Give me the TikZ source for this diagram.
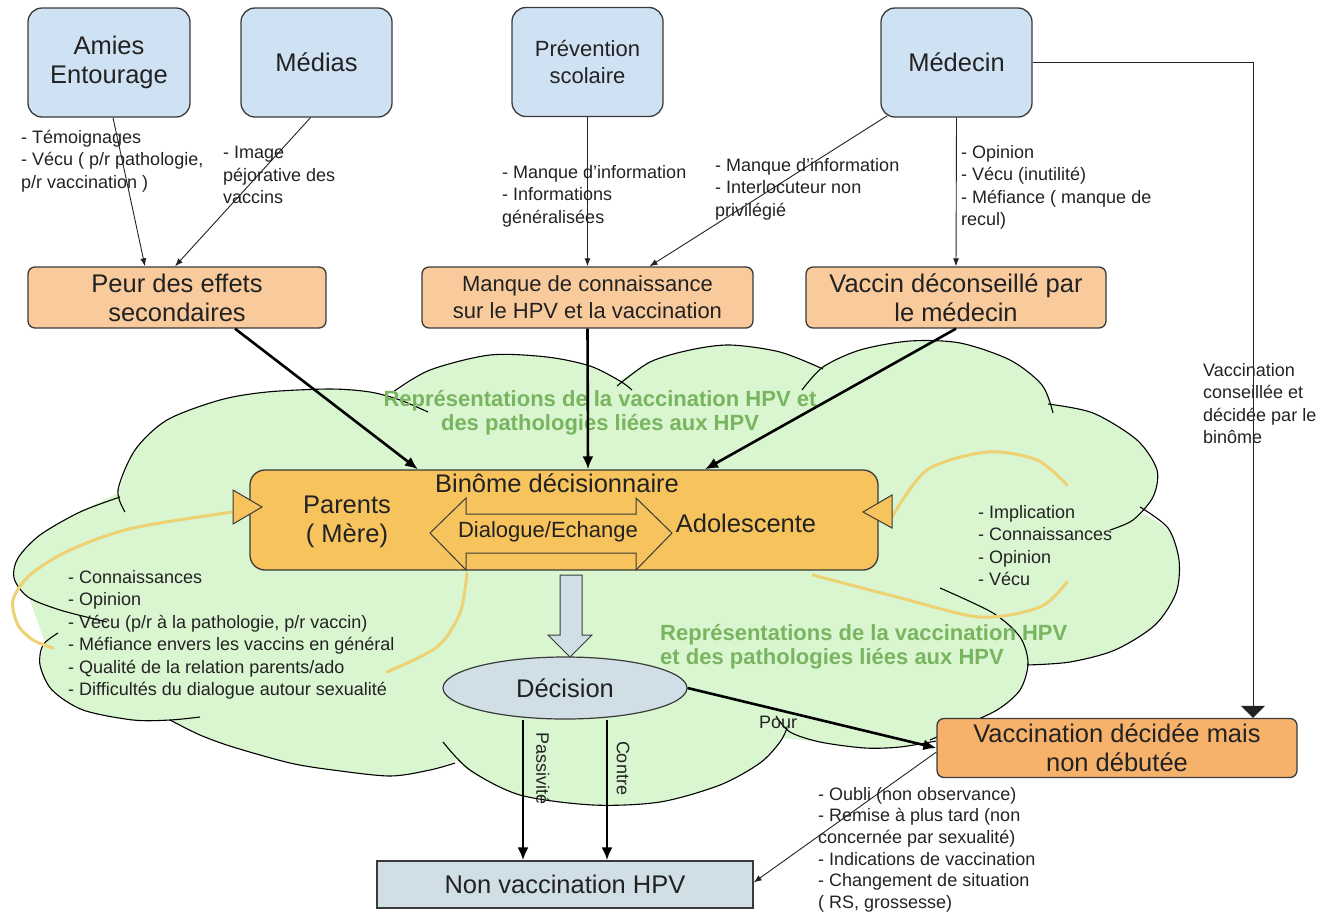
\documentclass[tikz,border=0pt]{standalone}
\usepackage{fontspec}
\setmainfont{Liberation Sans}
\usetikzlibrary{arrows.meta,shapes.geometric}
\definecolor{srcblue}{HTML}{CFE2F3}
\definecolor{causeorange}{HTML}{F9CB9C}
\definecolor{goalorange}{HTML}{F6B26B}
\definecolor{pairyellow}{HTML}{F7C35C}
\definecolor{cloudgreen}{HTML}{D9F6D1}
\definecolor{reprgreen}{HTML}{79B45F}
\definecolor{halo}{HTML}{EED173}
\definecolor{resultgray}{HTML}{D0DEE6}
\definecolor{edgegray}{HTML}{3A3A3A}
\definecolor{inkdark}{HTML}{222222}
\newcommand\bigtxt{\fontsize{25.5}{29}\selectfont}
\newcommand\midtxt{\fontsize{22}{27}\selectfont}
\newcommand\smalltxt{\fontsize{18}{22.5}\selectfont}
\newcommand\greentxt{\bfseries\fontsize{22}{24.5}\selectfont}
\begin{document}
\begin{tikzpicture}[x=1pt,y=-1pt,
  srcbox/.style={draw=edgegray,fill=srcblue,line width=1.3pt,rounded corners=14pt,align=center,inner sep=0pt,text=inkdark,minimum height=109pt},
  causebox/.style={draw=edgegray,fill=causeorange,line width=1.3pt,rounded corners=7pt,align=center,inner sep=0pt,text=inkdark,font=\bigtxt,minimum height=61pt},
  note/.style={align=left,inner sep=0pt,anchor=north west,font=\smalltxt,text=inkdark},
  thinarr/.style={draw=inkdark,line width=0.9pt,-{Latex[length=8pt,width=6pt]}},
  thickarr/.style={draw=black,line width=2.6pt,-{Latex[length=13pt,width=11pt]}},
  lobe/.style={draw=black,line width=1.1pt},
  halocurve/.style={draw=halo,line width=3pt,line cap=round},
  greenlabel/.style={font=\greentxt,text=reprgreen,inner sep=0pt},
  resultshape/.style={draw=edgegray,fill=resultgray,line width=1.2pt,inner sep=0pt,font=\bigtxt,text=inkdark}]
\useasboundingbox (0,0) rectangle (1332,916);

\fill[cloudgreen] plot[smooth] coordinates {(118,493) (135,450) (167,420) (220,400) (267,392) (330,389) (370,392) (392,397)}
 -- plot[smooth] coordinates {(392,397) (430,370) (490,355) (547,357) (590,366) (620,381)}
 -- plot[smooth] coordinates {(620,381) (650,362) (690,350) (730,345) (780,352) (820,367)}
 -- plot[smooth] coordinates {(820,367) (860,350) (910,341) (960,343) (1010,360) (1042,385) (1052,405)}
 -- plot[smooth] coordinates {(1052,405) (1093,413) (1137,440) (1157,470) (1153,497) (1140,512)}
 -- plot[smooth] coordinates {(1140,512) (1168,530) (1179,560) (1176,593) (1155,625) (1115,650) (1070,662) (1027,665)}
 -- plot[smooth] coordinates {(1027,665) (1020,690) (997,710) (960,727) (932,740)}
 -- plot[smooth] coordinates {(932,740) (900,747) (865,748) (820,742) (783,738)}
 -- plot[smooth] coordinates {(783,738) (760,763) (720,785) (660,802) (593,805) (520,795) (475,775) (457,760)}
 -- plot[smooth] coordinates {(457,760) (430,770) (390,776) (333,770) (290,763) (233,747) (200,735) (172,721)}
 -- plot[smooth] coordinates {(172,721) (133,720) (83,710) (52,690) (40,665) (45,643)}
 -- plot[smooth] coordinates {(30,600) (14,578) (18,558) (40,535) (80,512) (118,493)} -- cycle;
\draw[lobe] plot[smooth] coordinates {(125,512) (118,490) (135,450) (167,420) (220,400) (267,392) (330,389) (370,392) (400,400) (428,412)};
\draw[lobe] plot[smooth] coordinates {(393,392) (430,370) (490,355) (547,357) (590,366) (620,381) (632,390)};
\draw[lobe] plot[smooth] coordinates {(617,386) (650,362) (690,350) (730,345) (780,352) (823,369)};
\draw[lobe] plot[smooth] coordinates {(802,390) (823,367) (860,350) (910,341) (960,343) (1010,360) (1042,385) (1053,413)};
\draw[lobe] plot[smooth] coordinates {(1048,404) (1093,413) (1137,440) (1157,470) (1153,497) (1133,520) (1110,530)};
\draw[lobe] plot[smooth] coordinates {(1140,507) (1168,528) (1179,560) (1176,593) (1155,625) (1115,650) (1070,662) (1027,665)};
\draw[lobe] plot[smooth] coordinates {(940,588) (993,613) (1020,637) (1028,663) (1020,690) (997,710) (960,727) (930,740)};
\draw[lobe] plot[smooth] coordinates {(936,741) (900,747) (865,748) (820,742) (790,732) (776,716)};
\draw[lobe] plot[smooth] coordinates {(443,742) (470,770) (520,795) (593,805) (660,802) (720,785) (760,763) (780,742) (787,728)};
\draw[lobe] plot[smooth] coordinates {(170,720) (200,735) (233,747) (290,763) (333,770) (390,776) (430,770) (455,763)};
\draw[lobe] plot[smooth] coordinates {(58,633) (43,645) (40,665) (52,690) (83,710) (133,720) (170,720) (200,717)};
\draw[lobe] plot[smooth] coordinates {(120,497) (80,512) (40,535) (18,558) (14,578) (28,597) (60,610) (107,622)};

\draw[halocurve] plot[smooth] coordinates {(233,512) (133,528) (70,550) (30,575) (13,600) (18,625) (33,640) (53,648)};
\draw[halocurve] plot[smooth] coordinates {(467,573) (460,613) (437,647) (387,672)};
\draw[halocurve] plot[smooth] coordinates {(892,517) (927,470) (987,452) (1037,460) (1067,485)};
\draw[halocurve] plot[smooth] coordinates {(813,575) (897,597) (980,617) (1040,607) (1067,582)};

\node[greenlabel,align=center] (repr1) at (600,413) {Représentations de la vaccination HPV et\\des pathologies liées aux HPV};
\node[greenlabel,align=left,anchor=north west] (repr2) at (660,624) {Représentations de la vaccination HPV\\et des pathologies liées aux HPV};

\node[note] (temoin) at (21,130) {- Témoignages\\- Vécu ( p/r pathologie,\\p/r vaccination )};
\node[note] (image) at (223,146) {- Image\\péjorative des\\vaccins};
\node[note] (infoscol) at (502,165) {- Manque d’information\\- Informations\\généralisées};
\node[note] (infomed) at (715,158) {- Manque d’information\\- Interlocuteur non\\privilégié};
\node[note] (avismed) at (961,145) {- Opinion\\- Vécu (inutilité)\\- Méfiance ( manque de\\recul)};
\node[note] (conseil) at (1203,363) {Vaccination\\conseillée et\\décidée par le\\binôme};
\node[note] (vecuparent) at (68,570) {- Connaissances\\- Opinion\\- Vécu (p/r à la pathologie, p/r vaccin)\\- Méfiance envers les vaccins en général\\- Qualité de la relation parents/ado\\- Difficultés du dialogue autour sexualité};
\node[note] (vecuado) at (978,505) {- Implication\\- Connaissances\\- Opinion\\- Vécu};
\node[note,font=\fontsize{18}{21.6}\selectfont] (freins) at (818,787) {- Oubli (non observance)\\- Remise à plus tard (non\\concernée par sexualité)\\- Indications de vaccination\\- Changement de situation\\( RS, grossesse)};

\node[draw=edgegray,fill=pairyellow,line width=1.3pt,rounded corners=15pt,minimum width=628pt,minimum height=100pt] (binome) at (564,520) {};
\draw[draw=edgegray,fill=pairyellow,line width=1pt] (233,490) -- (262,507) -- (233,524) -- cycle;
\draw[draw=edgegray,fill=pairyellow,line width=1pt] (892,495) -- (863,512) -- (892,528) -- cycle;
\draw[draw=edgegray,fill=pairyellow,line width=1pt] (430,533) -- (466,498) -- (466,514) -- (636,514) -- (636,498) -- (672,533) -- (636,570) -- (636,553) -- (466,553) -- (466,570) -- cycle;
\node[font=\bigtxt,text=inkdark,inner sep=0pt] (bintitle) at (557,483) {Binôme décisionnaire};
\node[font=\bigtxt,text=inkdark,align=center,inner sep=0pt] (parents) at (347,522) {Parents\\( Mère)};
\node[font=\bigtxt,text=inkdark,inner sep=0pt] (ado) at (746,523) {Adolescente};
\node[font=\midtxt,text=inkdark,inner sep=0pt] (dialogue) at (548,532) {Dialogue/Echange};

\draw[draw=edgegray,fill=resultgray,line width=1pt] (560,575) -- (582,575) -- (582,635) -- (592,635) -- (570,657) -- (548,635) -- (560,635) -- cycle;
\node[resultshape,ellipse,minimum width=244pt,minimum height=62pt] (decision) at (565,688) {Décision};
\node[resultshape,minimum width=376pt,minimum height=47pt] (nonvac) at (565,884.5) {Non vaccination HPV};

\node[srcbox,font=\bigtxt,minimum width=162pt] (amies) at (109,62.5) {Amies\\Entourage};
\node[srcbox,font=\bigtxt,minimum width=151pt] (medias) at (316.5,62.5) {Médias};
\node[srcbox,font=\midtxt,minimum width=151pt] (prev) at (587.5,62) {Prévention\\scolaire};
\node[srcbox,font=\bigtxt,minimum width=151pt] (medecin) at (956.5,62.5) {Médecin};
\node[causebox,minimum width=298pt] (peur) at (177,297.5) {Peur des effets\\secondaires};
\node[causebox,font=\midtxt,minimum width=331pt] (manque) at (587.5,297.5) {Manque de connaissance\\sur le HPV et la vaccination};
\node[causebox,minimum width=300pt] (vaccin) at (956,297.5) {Vaccin déconseillé par\\le médecin};
\node[causebox,fill=goalorange,minimum width=360pt,minimum height=59pt] (decidee) at (1117,748) {Vaccination décidée mais\\non débutée};

\draw[thinarr] ([xshift=4pt]amies.south) -- ([xshift=-32pt]peur.north);
\draw[thinarr] ([xshift=-6pt]medias.south) -- ([xshift=-2pt]peur.north);
\draw[thinarr] (prev.south) -- (manque.north);
\draw[thinarr] ([xshift=7pt,yshift=2pt]medecin.south west) -- ([xshift=62pt]manque.north);
\draw[thinarr] (medecin.south) -- (vaccin.north);
\draw[draw=inkdark,line width=0.9pt,-{Triangle[length=12pt,width=24pt]}] (medecin.east) -| ([xshift=136pt]decidee.north);
\draw[thickarr] ([xshift=58pt]peur.south) -- ([xshift=-146pt]binome.north);
\draw[thickarr] (manque.south) -- ([xshift=24pt]binome.north);
\draw[thickarr] (vaccin.south) -- ([xshift=141pt]binome.north);
\draw[thickarr] ([xshift=-42pt]decision.south) -- ([xshift=-42pt]nonvac.north);
\draw[thickarr] ([xshift=42pt]decision.south) -- ([xshift=42pt]nonvac.north);
\draw[thickarr] (decision.east) -- (decidee.west);
\draw[thinarr] ([yshift=-4pt]decidee.west) -- ([yshift=2pt]nonvac.east);

\node[font=\smalltxt,text=inkdark,inner sep=0pt] (pour) at (778,722) {Pour};
\node[font=\smalltxt,text=inkdark,inner sep=0pt,rotate=-90] (passiv) at (543,768) {Passivité};
\node[font=\smalltxt,text=inkdark,inner sep=0pt,rotate=-90] (contre) at (623,768) {Contre};
\end{tikzpicture}
\end{document}
